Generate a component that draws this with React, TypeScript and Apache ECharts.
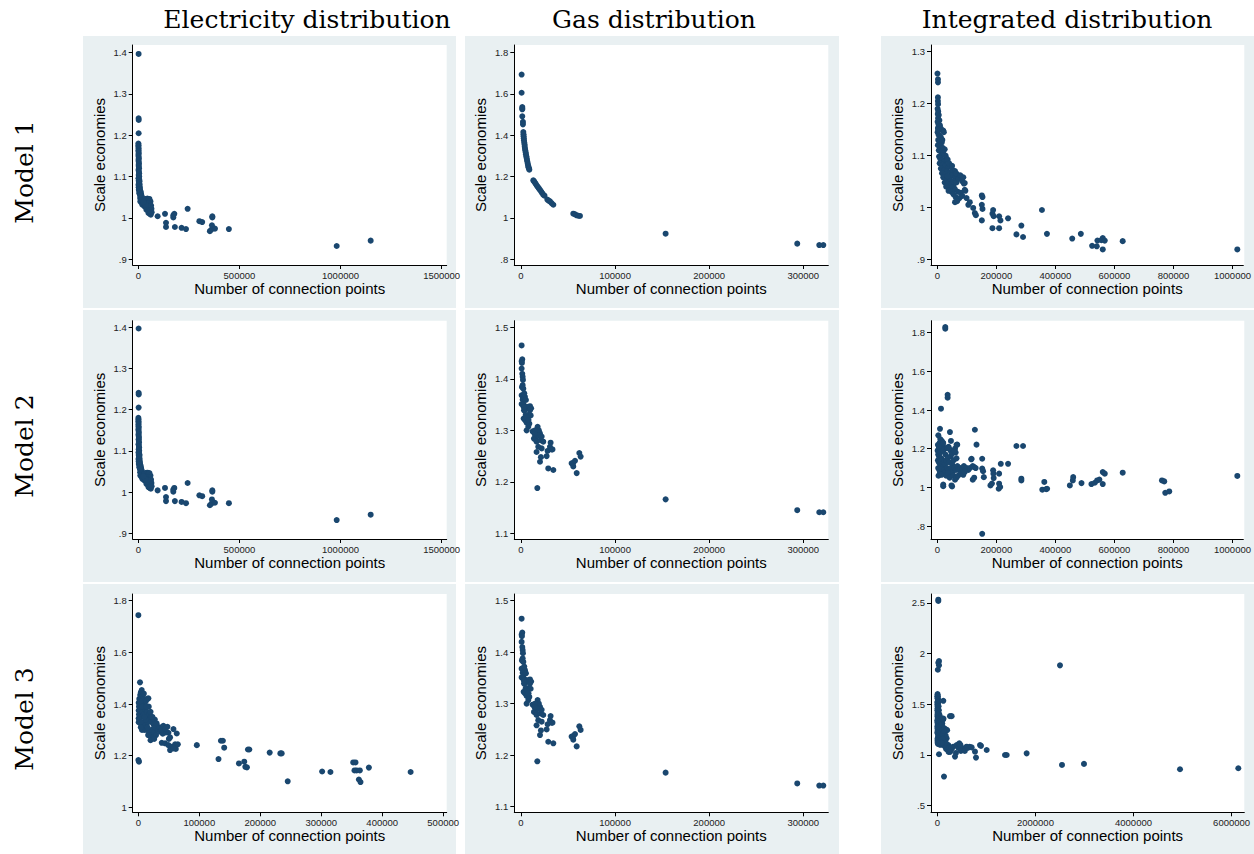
import { useEffect, useRef } from "react";
import * as echarts from "echarts";

// ---------- texts ----------
const columnTitles = ["Electricity distribution", "Gas distribution", "Integrated distribution"];
const rowTitles = ["Model 1", "Model 2", "Model 3"];
const xAxisTitle = "Number of connection points";
const yAxisTitle = "Scale economies";

// ---------- tick values ----------
const elecX12Ticks = [0, 500000, 1000000, 1500000];
const elecX3Ticks = [0, 100000, 200000, 300000, 400000, 500000];
const gasXTicks = [0, 100000, 200000, 300000];
const intX12Ticks = [0, 200000, 400000, 600000, 800000, 1000000];
const intX3Ticks = [0, 2000000, 4000000, 6000000];
const elecY12Ticks = [0.9, 1, 1.1, 1.2, 1.3, 1.4];
const elecY3Ticks = [1, 1.2, 1.4, 1.6, 1.8];
const gasY1Ticks = [0.8, 1, 1.2, 1.4, 1.6, 1.8];
const gasY23Ticks = [1.1, 1.2, 1.3, 1.4, 1.5];
const intY1Ticks = [0.9, 1, 1.1, 1.2, 1.3];
const intY2Ticks = [0.8, 1, 1.2, 1.4, 1.6, 1.8];
const intY3Ticks = [0.5, 1, 1.5, 2, 2.5];

// ---------- data: [connection points, scale economies] ----------
const elecModel12 = [
  [1500, 1.397], [1500, 1.241], [2000, 1.237], [1500, 1.205],
  [500, 1.18], [1000, 1.176], [500, 1.172], [1500, 1.168], [800, 1.164], [1200, 1.16], [2000, 1.156],
  [600, 1.152], [1500, 1.148], [2500, 1.144], [1000, 1.14], [2000, 1.136], [3000, 1.132], [1500, 1.128],
  [2500, 1.124], [3500, 1.12], [1000, 1.116], [3000, 1.112], [4000, 1.108], [2000, 1.104], [4500, 1.1],
  [3000, 1.096], [5000, 1.092], [6000, 1.088], [4000, 1.084], [7000, 1.08], [5000, 1.076], [8000, 1.073],
  [3000, 1.078], [6000, 1.07], [9000, 1.067], [11000, 1.064], [7000, 1.062], [13000, 1.06], [10000, 1.057],
  [15000, 1.055], [12000, 1.052], [18000, 1.05], [9000, 1.048], [14000, 1.046], [20000, 1.045],
  [1000, 1.096], [2000, 1.09], [3000, 1.085], [1000, 1.08], [2000, 1.074], [4000, 1.07], [6000, 1.066],
  [2500, 1.068], [5000, 1.06], [8000, 1.056],
  [25000, 1.043], [30000, 1.044], [35000, 1.046], [40000, 1.045], [45000, 1.047], [50000, 1.044],
  [55000, 1.046], [60000, 1.04], [10000, 1.04], [16000, 1.037], [22000, 1.038], [28000, 1.035],
  [34000, 1.036], [40000, 1.034], [46000, 1.036], [52000, 1.035], [58000, 1.033], [63000, 1.03],
  [20000, 1.032], [30000, 1.028], [38000, 1.027], [45000, 1.025], [52000, 1.024], [60000, 1.026],
  [65000, 1.022], [40000, 1.02], [48000, 1.018], [55000, 1.016], [62000, 1.018], [50000, 1.012],
  [57000, 1.01], [62000, 1.008], [60000, 1.013], [66000, 1.014], [45000, 1.03], [35000, 1.032], [25000, 1.038],
  [95600, 1.004], [132000, 1.01], [137000, 0.988], [137000, 0.978], [173000, 1.006], [178000, 1.01],
  [173000, 1.001], [181000, 0.978], [214000, 0.976], [236000, 0.973], [244000, 1.022], [302000, 0.992],
  [316000, 0.99], [354000, 0.968], [362000, 0.972], [364000, 0.982], [366000, 1.001], [366000, 1.004],
  [379000, 0.974], [448000, 0.973], [981000, 0.932], [1149000, 0.945],
];

const elecModel3 = [
  [0, 1.744], [0, 1.183], [1000, 1.177], [2700, 1.484],
  [500, 1.33], [500, 1.345], [1000, 1.36], [500, 1.375], [1000, 1.39], [500, 1.405], [1500, 1.42],
  [2000, 1.4], [3000, 1.435], [4000, 1.445], [5500, 1.454], [6000, 1.44], [5000, 1.425], [7000, 1.43],
  [8000, 1.42], [3000, 1.38], [2500, 1.36], [4000, 1.35], [2000, 1.34], [3500, 1.325], [6000, 1.33],
  [7000, 1.37], [8500, 1.39], [9000, 1.36], [10000, 1.4], [11000, 1.38], [12000, 1.41], [13000, 1.35],
  [14000, 1.37], [15000, 1.42], [16400, 1.422], [17000, 1.39], [18000, 1.36], [19000, 1.34],
  [20000, 1.37], [21000, 1.35], [22000, 1.33], [8000, 1.31], [10000, 1.3], [12000, 1.32], [14000, 1.3],
  [16000, 1.33], [18000, 1.29], [20000, 1.28], [22000, 1.3], [24000, 1.27], [25000, 1.32], [26000, 1.29],
  [27000, 1.34], [28000, 1.31], [29000, 1.28], [30000, 1.325], [32000, 1.3], [35000, 1.31],
  [23000, 1.35], [20000, 1.26], [16000, 1.28], [26000, 1.265], [12000, 1.34], [6000, 1.3],
  [10000, 1.35], [4000, 1.31], [15000, 1.31], [6000, 1.39], [9000, 1.44], [13000, 1.39], [3000, 1.41],
  [41000, 1.316], [47700, 1.312], [57500, 1.303], [49300, 1.289], [63000, 1.286], [38400, 1.25],
  [43800, 1.248], [49300, 1.241], [52000, 1.222], [55000, 1.235], [60300, 1.244], [61400, 1.226],
  [64700, 1.244], [57500, 1.228], [52000, 1.271], [50000, 1.265], [45000, 1.29], [35600, 1.293],
  [40000, 1.285], [38000, 1.3], [44000, 1.305],
  [95900, 1.241], [131500, 1.187], [135400, 1.258], [138600, 1.258], [140800, 1.231], [165000, 1.17],
  [173700, 1.177], [175400, 1.157], [178100, 1.155], [179700, 1.224], [182000, 1.224], [215400, 1.212],
  [232900, 1.209], [235100, 1.209], [245000, 1.101], [301400, 1.139], [315100, 1.137], [352400, 1.174],
  [356200, 1.174], [354500, 1.143], [358000, 1.143], [363300, 1.143], [361700, 1.108], [364400, 1.098],
  [378100, 1.154], [446600, 1.137],
];

const gasModel1 = [
  [700, 1.694], [700, 1.606], [1400, 1.537], [1400, 1.53], [1400, 1.526], [1400, 1.492], [2100, 1.465],
  [2100, 1.453], [2500, 1.416], [2700, 1.405], [2800, 1.396], [3000, 1.386], [3200, 1.376], [3500, 1.365],
  [3800, 1.355], [4000, 1.345], [4300, 1.335], [4600, 1.326], [5000, 1.317], [5300, 1.308], [5700, 1.299],
  [6000, 1.29], [6400, 1.281], [6800, 1.272], [7200, 1.262], [7600, 1.253], [8000, 1.246], [8500, 1.24],
  [8900, 1.234],
  [13100, 1.182], [14000, 1.177], [15000, 1.17], [16000, 1.163], [17000, 1.156], [18000, 1.15],
  [19000, 1.143], [20200, 1.136], [21500, 1.128], [22500, 1.121], [23700, 1.113], [25000, 1.108],
  [28000, 1.089], [29500, 1.084], [30800, 1.08], [32500, 1.072], [34400, 1.064],
  [55600, 1.021], [57500, 1.018], [59200, 1.013], [61000, 1.011], [62700, 1.01],
  [153700, 0.924], [293600, 0.876], [317000, 0.869], [321300, 0.869],
];

const gasModel23 = [
  [700, 1.465], [700, 1.434], [1400, 1.438], [1000, 1.431], [700, 1.42], [1400, 1.41], [1800, 1.404],
  [2100, 1.398], [1800, 1.388], [2500, 1.381], [1000, 1.384], [700, 1.368], [1800, 1.36], [2500, 1.351],
  [700, 1.351], [4250, 1.365], [5300, 1.359], [6000, 1.346], [3500, 1.372], [4500, 1.34], [3200, 1.339],
  [2800, 1.323], [4250, 1.32], [6000, 1.315], [7800, 1.307], [6000, 1.3], [7800, 1.33], [9600, 1.347],
  [9600, 1.339], [10300, 1.329], [8900, 1.313], [10800, 1.343], [5000, 1.33], [6500, 1.325], [8000, 1.32],
  [3000, 1.345],
  [12400, 1.298], [13800, 1.284], [15900, 1.282], [17700, 1.307], [17700, 1.297], [16600, 1.278],
  [18400, 1.268], [16600, 1.258], [20200, 1.294], [20900, 1.281], [23700, 1.278], [22000, 1.265],
  [21200, 1.248], [20200, 1.239], [17400, 1.188], [29000, 1.226], [27300, 1.25], [28300, 1.26],
  [30800, 1.268], [31500, 1.276], [32600, 1.263], [33500, 1.263], [34400, 1.223], [19000, 1.3],
  [18000, 1.29], [15000, 1.3], [22000, 1.288], [14500, 1.293],
  [53800, 1.236], [55600, 1.237], [55600, 1.23], [57400, 1.241], [59200, 1.217], [62000, 1.256],
  [63400, 1.249],
  [153700, 1.166], [293600, 1.145], [317000, 1.141], [321300, 1.141],
];

const intModel1 = [
  [500, 1.258], [2200, 1.247], [2200, 1.241], [2000, 1.212], [2000, 1.205], [2500, 1.199],
  [1000, 1.19], [3000, 1.185], [1500, 1.18], [5000, 1.178], [2500, 1.172], [7000, 1.168], [1000, 1.165],
  [4000, 1.16], [9000, 1.158], [2000, 1.153], [6000, 1.15], [12000, 1.152], [20000, 1.148], [22000, 1.145],
  [1000, 1.145], [4000, 1.14], [8000, 1.138], [12000, 1.135], [3000, 1.13], [7000, 1.127], [15000, 1.125],
  [2000, 1.12], [10000, 1.118], [18000, 1.115], [25000, 1.112], [5000, 1.11], [13000, 1.107],
  [20000, 1.104], [28000, 1.1], [30000, 1.095], [9000, 1.13], [17000, 1.13], [5000, 1.16], [3000, 1.15],
  [15000, 1.1], [25000, 1.09],
  [6000, 1.098], [10000, 1.094], [15000, 1.09], [22000, 1.088], [35000, 1.092], [8000, 1.085],
  [18000, 1.082], [27000, 1.08], [38000, 1.078], [12000, 1.075], [24000, 1.072], [32000, 1.07],
  [45000, 1.068], [52000, 1.072], [16000, 1.066], [28000, 1.063], [40000, 1.06], [50000, 1.062],
  [60000, 1.058], [70000, 1.062], [75000, 1.058], [20000, 1.058], [33000, 1.055], [45000, 1.052],
  [55000, 1.05], [65000, 1.048], [85000, 1.05], [90000, 1.046], [82000, 1.055], [93000, 1.047],
  [40000, 1.085], [50000, 1.08], [60000, 1.07], [65000, 1.065], [72000, 1.055], [78000, 1.062],
  [88000, 1.058], [55000, 1.04], [45000, 1.045], [35000, 1.06],
  [25000, 1.048], [35000, 1.045], [42000, 1.04], [30000, 1.04], [50000, 1.038], [60000, 1.035],
  [38000, 1.032], [48000, 1.03], [70000, 1.03], [80000, 1.028], [95000, 1.032], [55000, 1.025],
  [62000, 1.02], [75000, 1.018], [85000, 1.022], [60000, 1.01], [67000, 1.012], [99000, 1.018],
  [93000, 1.034], [110000, 1.01], [105000, 1.005],
  [121500, 0.999], [127000, 0.989], [130600, 0.985], [150800, 1.023], [153000, 1.02], [150800, 1.005],
  [153000, 0.997], [150800, 0.975], [186800, 0.988], [189000, 0.995], [191000, 0.983], [186800, 0.96],
  [209300, 0.983], [213800, 0.975], [209300, 0.96], [239700, 0.979], [268000, 0.948], [284700, 0.965],
  [290400, 0.943], [354500, 0.995], [371400, 0.949], [457000, 0.94], [486200, 0.949], [524500, 0.926],
  [540200, 0.925], [542500, 0.936], [556000, 0.937], [560500, 0.941], [560500, 0.919], [567300, 0.936],
  [628000, 0.935], [1016300, 0.919],
];

const intModel2 = [
  [27000, 1.829], [27000, 1.821], [34900, 1.479], [34900, 1.464], [12400, 1.407], [9000, 1.303],
  [3400, 1.269], [42800, 1.286], [46200, 1.24], [127200, 1.298], [132800, 1.221], [67500, 1.221],
  [268000, 1.214], [290400, 1.214], [116000, 1.148], [152000, 1.148], [215000, 1.122], [239700, 1.122],
  [152000, 1.097], [155000, 1.084], [157600, 1.053], [189000, 1.088], [190000, 1.071], [191000, 1.048],
  [180000, 1.01], [185000, 1.02], [209300, 1.071], [209300, 1.019], [208000, 0.993], [213000, 1.002],
  [284700, 1.036], [284700, 1.045], [355600, 0.988], [362400, 1.028], [369000, 0.991], [372000, 0.993],
  [449000, 1.01], [460300, 1.053], [459000, 1.036], [488500, 1.022], [522000, 1.017], [533500, 1.024],
  [541400, 1.036], [549000, 1.04], [560500, 1.079], [567300, 1.071], [560500, 1.017], [628000, 1.076],
  [760900, 1.036], [768800, 1.031], [772200, 0.972], [785700, 0.979], [1016300, 1.059], [152000, 0.76],
  [2000, 1.22], [5000, 1.2], [1000, 1.19], [8000, 1.23], [12000, 1.21], [15000, 1.24], [18000, 1.22],
  [3000, 1.17], [6000, 1.16], [10000, 1.18], [14000, 1.15], [20000, 1.19], [25000, 1.2], [28000, 1.17],
  [32000, 1.205], [38000, 1.21], [2000, 1.14], [5000, 1.13], [9000, 1.12], [13000, 1.14], [17000, 1.11],
  [22000, 1.13], [26000, 1.12], [30000, 1.14], [35000, 1.15], [40000, 1.13], [45000, 1.16], [50000, 1.12],
  [55000, 1.14], [60000, 1.2], [62000, 1.18], [65000, 1.15], [3000, 1.1], [7000, 1.09], [11000, 1.08],
  [15000, 1.095], [19000, 1.07], [24000, 1.09], [28000, 1.08], [33000, 1.1], [38000, 1.09], [42000, 1.07],
  [47000, 1.1], [52000, 1.08], [58000, 1.1], [63000, 1.09], [68000, 1.11], [72000, 1.09], [78000, 1.1],
  [85000, 1.095], [90000, 1.11], [95000, 1.09], [100000, 1.1], [105000, 1.09], [110000, 1.1],
  [115000, 1.145], [120000, 1.11], [125000, 1.105], [130000, 1.1], [4000, 1.06], [8000, 1.07],
  [14000, 1.065], [20000, 1.015], [20000, 1.006], [30000, 1.06], [36000, 1.075], [42000, 1.05],
  [48000, 1.01], [50000, 1.005], [55000, 1.06], [60000, 1.04], [65000, 1.05], [70000, 1.06], [80000, 1.07],
  [88000, 1.065], [93000, 1.08], [120000, 1.04], [125000, 1.05], [65000, 1.22], [45000, 1.19],
  [50000, 1.175], [58000, 1.19], [35000, 1.205], [40000, 1.2], [10000, 1.25], [20000, 1.23], [6000, 1.21],
];

const intModel3 = [
  [20000, 2.532], [20000, 2.519], [34000, 1.926], [20000, 1.91], [34000, 1.884], [10000, 1.841],
  [2501000, 1.884], [122000, 1.534], [258000, 1.383], [292000, 1.383], [34000, 1.007], [136000, 0.787],
  [5000, 1.6], [10000, 1.58], [3000, 1.56], [15000, 1.55], [8000, 1.53], [20000, 1.52], [2000, 1.5],
  [12000, 1.49], [25000, 1.48], [5000, 1.46], [18000, 1.45], [30000, 1.44], [8000, 1.42], [22000, 1.41],
  [40000, 1.4], [3000, 1.38], [15000, 1.37], [35000, 1.36], [50000, 1.38], [6000, 1.34], [25000, 1.33],
  [45000, 1.32], [60000, 1.34], [80000, 1.33], [10000, 1.3], [30000, 1.29], [55000, 1.28], [75000, 1.3],
  [100000, 1.31], [4000, 1.26], [20000, 1.25], [40000, 1.24], [70000, 1.26], [90000, 1.24], [120000, 1.27],
  [150000, 1.26], [180000, 1.25], [200000, 1.245], [8000, 1.22], [28000, 1.21], [50000, 1.2], [85000, 1.22],
  [110000, 1.2], [140000, 1.21], [190000, 1.164], [15000, 1.18], [35000, 1.17], [60000, 1.16], [95000, 1.18],
  [130000, 1.17], [170000, 1.19], [5000, 1.14], [25000, 1.13], [45000, 1.12], [75000, 1.14], [105000, 1.13],
  [150000, 1.12], [224000, 1.098], [12000, 1.11], [40000, 1.105], [65000, 1.1], [90000, 1.11],
  [120000, 1.1], [200000, 1.1], [160000, 1.08], [180000, 1.06], [210000, 1.05], [230000, 1.03],
  [1000, 1.58], [2000, 1.52], [6000, 1.48], [1000, 1.44], [4000, 1.4], [9000, 1.36], [2000, 1.32],
  [14000, 1.28], [7000, 1.24], [18000, 1.2], [3000, 1.16], [12000, 1.13], [20000, 1.12], [30000, 1.15],
  [55000, 1.23], [65000, 1.19], [80000, 1.15], [100000, 1.21], [130000, 1.24], [160000, 1.14],
  [45000, 1.35], [70000, 1.32], [90000, 1.28], [110000, 1.16], [140000, 1.1], [170000, 1.12],
  [60000, 1.11], [85000, 1.12], [25000, 1.27], [35000, 1.25], [50000, 1.3], [1000, 1.22], [1000, 1.28],
  [1000, 1.34], [6000, 1.12], [120000, 1.35], [125000, 1.36], [95000, 1.36],
  [326000, 1.082], [394000, 1.098], [430000, 1.07], [360000, 0.984], [380000, 1.02], [530000, 1.065],
  [480000, 1.04], [598000, 1.082], [448000, 1.115], [470000, 1.1], [660000, 1.08], [768000, 1.033],
  [788000, 0.974], [870000, 1.098], [890000, 1.09], [1006000, 1.049], [1380000, 1.0], [1414000, 1.0],
  [1821000, 1.016], [2542000, 0.902], [2990000, 0.912], [4948000, 0.859], [6137000, 0.869],
  [260000, 1.03], [300000, 1.07], [280000, 1.05], [560000, 1.04], [620000, 1.07], [700000, 1.075],
];

// ---------- layout (pixels) ----------
const colBg = [[83, 456], [465, 839], [881, 1254]];
const rowBg = [[36, 308], [310, 582], [584, 854]];
const gridCols = [[132.7, 446.7], [514.3, 828.3], [931, 1244.3]];
const gridRows = [[45, 265], [320.7, 539], [594, 812.3]];
const titleX = [307, 654, 1067];
const rowLabelY = [172, 446, 719];

const panels = [
  { r: 0, c: 0, data: elecModel12, x: [-27700, 1525000], xt: elecX12Ticks, y: [0.886, 1.4186], yt: elecY12Ticks },
  { r: 0, c: 1, data: gasModel1, x: [-7084, 326600], xt: gasXTicks, y: [0.7726, 1.837], yt: gasY1Ticks },
  { r: 0, c: 2, data: intModel1, x: [-21400, 1036600], xt: intX12Ticks, y: [0.889, 1.313], yt: intY1Ticks },
  { r: 1, c: 0, data: elecModel12, x: [-27700, 1525000], xt: elecX12Ticks, y: [0.886, 1.416], yt: elecY12Ticks },
  { r: 1, c: 1, data: gasModel23, x: [-7084, 326600], xt: gasXTicks, y: [1.089, 1.513], yt: gasY23Ticks },
  { r: 1, c: 2, data: intModel2, x: [-21400, 1036600], xt: intX12Ticks, y: [0.733, 1.862], yt: intY2Ticks },
  { r: 2, c: 0, data: elecModel3, x: [-9300, 505800], xt: elecX3Ticks, y: [0.981, 1.826], yt: elecY3Ticks },
  { r: 2, c: 1, data: gasModel23, x: [-7084, 326600], xt: gasXTicks, y: [1.089, 1.513], yt: gasY23Ticks },
  { r: 2, c: 2, data: intModel3, x: [-129000, 6259000], xt: intX3Ticks, y: [0.4345, 2.588], yt: intY3Ticks },
];

const MARKER = "#1a476f";
const PANEL_BG = "#e9f0f2";
const SANS = "'Liberation Sans', Arial, sans-serif";
const SERIF = "'DejaVu Serif', serif";

function fmtY(v: number) {
  const s = String(Math.round(v * 10) / 10);
  return s.startsWith("0.") ? s.slice(1) : s;
}

export default function App() {
  const ref = useRef<HTMLDivElement>(null);
  useEffect(() => {
    if (!ref.current) return;
    const chart = echarts.init(ref.current, undefined, { renderer: "svg" });

    const grids: any[] = [];
    const xAxes: any[] = [];
    const yAxes: any[] = [];
    const series: any[] = [];
    const graphics: any[] = [];

    rowBg.forEach((rb) => {
      colBg.forEach((cb) => {
        graphics.push({
          type: "rect", z: -20, silent: true,
          shape: { x: cb[0], y: rb[0], width: cb[1] - cb[0], height: rb[1] - rb[0] },
          style: { fill: PANEL_BG },
        });
      });
    });
    gridRows.forEach((gr) => {
      gridCols.forEach((gc) => {
        graphics.push({
          type: "rect", z: -19, silent: true,
          shape: { x: gc[0], y: gr[0], width: gc[1] - gc[0], height: gr[1] - gr[0] },
          style: { fill: "#ffffff" },
        });
      });
    });
    columnTitles.forEach((t, i) => {
      graphics.push({
        type: "text", x: titleX[i], y: 19, silent: true,
        style: { text: t, font: `25px ${SERIF}`, fill: "#000", textAlign: "center", textVerticalAlign: "middle" },
      });
    });
    rowTitles.forEach((t, i) => {
      graphics.push({
        type: "text", x: 24, y: rowLabelY[i], rotation: Math.PI / 2, silent: true,
        style: { text: t, font: `25px ${SERIF}`, fill: "#000", textAlign: "center", textVerticalAlign: "middle" },
      });
    });

    panels.forEach((p, i) => {
      const gc = gridCols[p.c];
      const gr = gridRows[p.r];
      grids.push({
        left: gc[0], top: gr[0], width: gc[1] - gc[0], height: gr[1] - gr[0],
        containLabel: false, show: false,
      });
      xAxes.push({
        type: "value", gridIndex: i, min: p.x[0], max: p.x[1],
        name: xAxisTitle, nameLocation: "middle", nameGap: 16,
        nameTextStyle: { fontFamily: SANS, fontSize: 15, color: "#000" },
        axisLine: { show: true, onZero: false, lineStyle: { color: "#000", width: 1 } },
        axisTick: { show: true, length: 4, customValues: p.xt, lineStyle: { color: "#000" } },
        axisLabel: {
          show: true, customValues: p.xt, margin: 5, fontFamily: SANS, fontSize: 9.5, color: "#222",
          formatter: (v: number) => String(Math.round(v)),
        },
        splitLine: { show: false },
      });
      yAxes.push({
        type: "value", gridIndex: i, min: p.y[0], max: p.y[1],
        name: yAxisTitle, nameLocation: "middle", nameGap: 26, nameRotate: 90,
        nameTextStyle: { fontFamily: SANS, fontSize: 15, color: "#000" },
        axisLine: { show: true, onZero: false, lineStyle: { color: "#000", width: 1 } },
        axisTick: { show: true, length: 4, customValues: p.yt, lineStyle: { color: "#000" } },
        axisLabel: {
          show: true, customValues: p.yt, margin: 6, fontFamily: SANS, fontSize: 9.5, color: "#222",
          formatter: (v: number) => fmtY(v),
        },
        splitLine: { show: false },
      });
      series.push({
        type: "scatter", xAxisIndex: i, yAxisIndex: i, data: p.data,
        symbol: "circle", symbolSize: 6,
        itemStyle: { color: MARKER, opacity: 1 },
        emphasis: { disabled: true },
      });
    });

    chart.setOption({
      animation: false,
      backgroundColor: "#ffffff",
      grid: grids,
      xAxis: xAxes,
      yAxis: yAxes,
      series,
      graphic: { elements: graphics },
    });
    return () => chart.dispose();
  }, []);

  return (
    <div
      ref={ref}
      style={{ position: "fixed", left: 0, top: 0, width: 1254, height: 854 }}
    />
  );
}
